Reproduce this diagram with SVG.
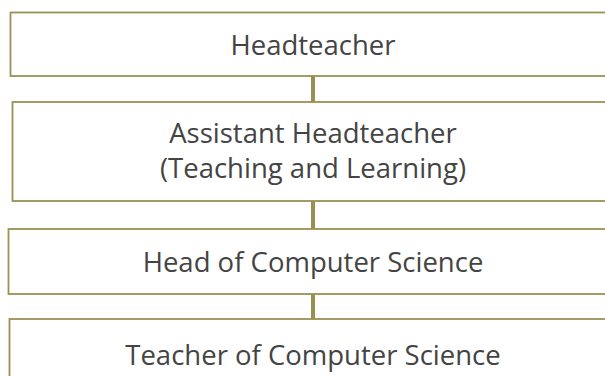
<svg xmlns="http://www.w3.org/2000/svg" width="605" height="376" viewBox="0 0 605 376">
<style>
.box{fill:#ffffff;stroke:#9b9152;stroke-width:1.8}
.lbl{font-family:"Open Sans","Noto Sans",sans-serif;font-size:27.5px;fill:#444444;text-anchor:middle}
.con{stroke:#998f4e;stroke-width:4;fill:none}
</style>
<rect width="605" height="376" fill="#ffffff"/>
<g id="connectors">
<line class="con" x1="313" y1="76" x2="313" y2="102"/>
<line class="con" x1="313" y1="201" x2="313" y2="229"/>
<line class="con" x1="313" y1="294" x2="313" y2="319"/>
</g>
<g id="headteacher">
<rect class="box" x="10.5" y="12.5" width="620" height="63.5"/>
<text class="lbl" x="313" y="55">Headteacher</text>
</g>
<g id="assistant-headteacher">
<rect class="box" x="12.5" y="102" width="620" height="99"/>
<text class="lbl" x="313" y="143">Assistant Headteacher</text>
<text class="lbl" x="313" y="178">(Teaching and Learning)</text>
</g>
<g id="head-of-cs">
<rect class="box" x="8.5" y="229" width="620" height="65"/>
<text class="lbl" x="313" y="272">Head of Computer Science</text>
</g>
<g id="teacher-of-cs">
<rect class="box" x="9.5" y="319" width="620" height="80"/>
<text class="lbl" x="313" y="365">Teacher of Computer Science</text>
</g>
</svg>
